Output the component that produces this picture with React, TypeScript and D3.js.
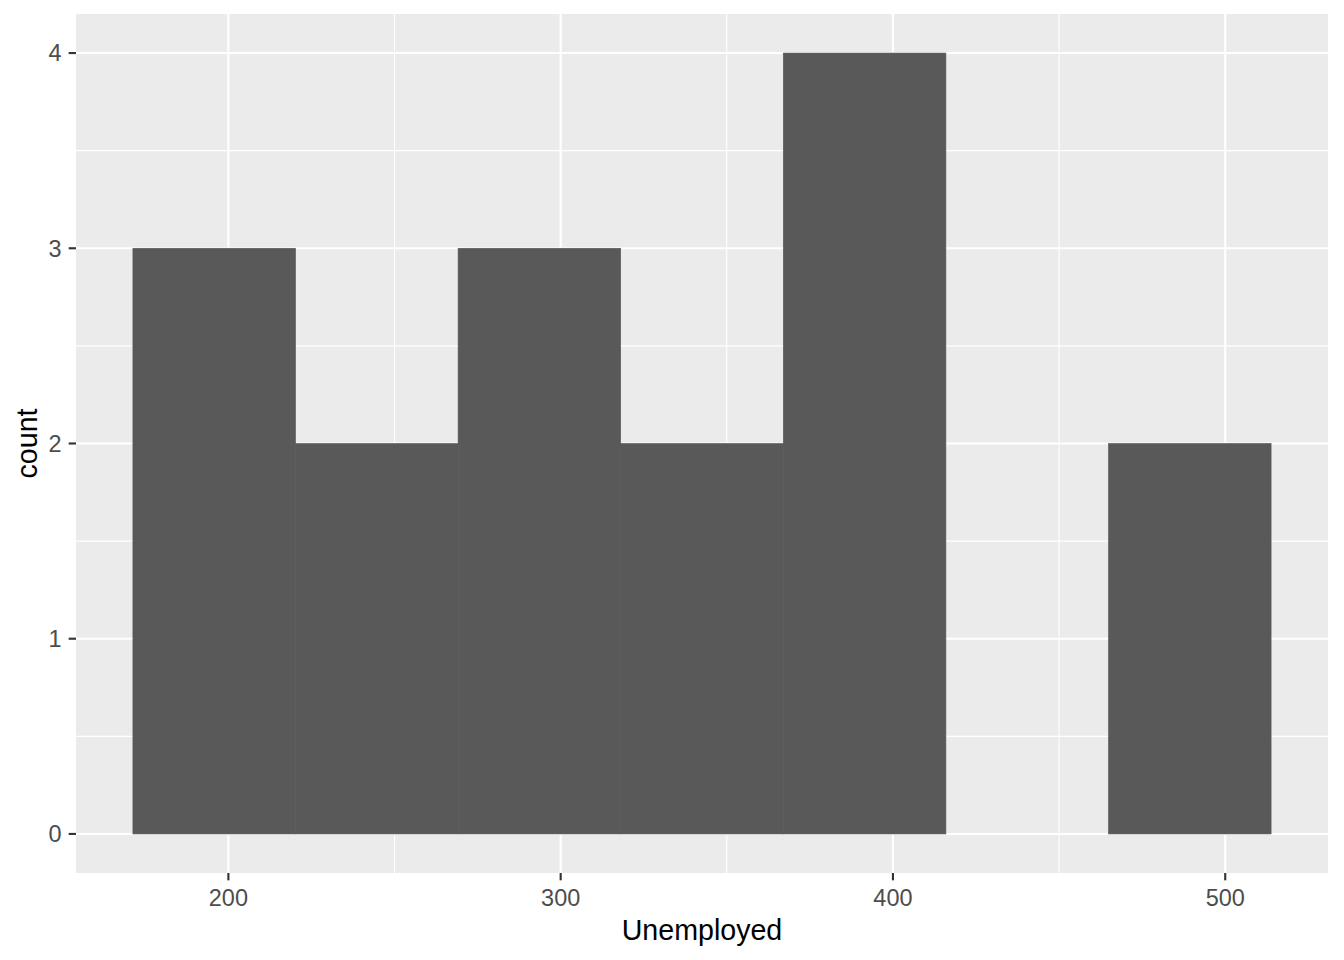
import React from "react";
import * as d3 from "d3";

// longley$Unemployed
const unemployed: number[] = [
  235.6, 232.5, 368.2, 335.1, 209.9, 193.2, 187.0, 357.8,
  290.4, 282.2, 293.6, 468.1, 381.3, 393.1, 480.6, 400.7,
];
const binCount = 7;
const xTicks: number[] = [200, 300, 400, 500];
const xMinorTicks: number[] = [250, 350, 450];
const yTicks: number[] = [0, 1, 2, 3, 4];
const yMinorTicks: number[] = [0.5, 1.5, 2.5, 3.5];
const xTitle = "Unemployed";
const yTitle = "count";

const W = 1344;
const H = 960;
const panel = { left: 76, right: 1328, top: 14, bottom: 873 };

function ggBins(values: number[], bins: number) {
  const [lo, hi] = d3.extent(values) as [number, number];
  const width = (hi - lo) / (bins - 1);
  const boundary = width / 2;
  const shift = Math.floor((lo - boundary) / width);
  const origin = boundary + shift * width;
  const edges: number[] = [];
  for (let i = 0; i <= bins; i++) edges.push(origin + i * width);
  const out = [];
  for (let i = 0; i < bins; i++) {
    const x0 = edges[i];
    const x1 = edges[i + 1];
    const count = values.filter((v) =>
      i === 0 ? v >= x0 && v <= x1 : v > x0 && v <= x1
    ).length;
    out.push({ x0, x1, count });
  }
  return out;
}

export default function App() {
  const bins = ggBins(unemployed, binCount);
  const xLo = bins[0].x0;
  const xHi = bins[bins.length - 1].x1;
  const xPad = (xHi - xLo) * 0.05;
  const yMax = d3.max(bins, (b) => b.count) as number;
  const yPad = yMax * 0.05;

  const x = d3.scaleLinear().domain([xLo - xPad, xHi + xPad]).range([panel.left, panel.right]);
  const y = d3.scaleLinear().domain([-yPad, yMax + yPad]).range([panel.bottom, panel.top]);

  const font = "'Liberation Sans', Arial, sans-serif";
  const tickLen = 7.33;

  return (
    <svg width={W} height={H} style={{ position: "absolute", left: 0, top: 0 }} fontFamily={font}>
      <rect x={0} y={0} width={W} height={H} fill="#FFFFFF" />
      <rect x={panel.left} y={panel.top} width={panel.right - panel.left} height={panel.bottom - panel.top} fill="#EBEBEB" />
      {xMinorTicks.map((t) => (
        <line key={"xm" + t} x1={x(t)} x2={x(t)} y1={panel.top} y2={panel.bottom} stroke="#FFFFFF" strokeWidth={1.07} />
      ))}
      {yMinorTicks.map((t) => (
        <line key={"ym" + t} x1={panel.left} x2={panel.right} y1={y(t)} y2={y(t)} stroke="#FFFFFF" strokeWidth={1.07} />
      ))}
      {xTicks.map((t) => (
        <line key={"xM" + t} x1={x(t)} x2={x(t)} y1={panel.top} y2={panel.bottom} stroke="#FFFFFF" strokeWidth={2.13} />
      ))}
      {yTicks.map((t) => (
        <line key={"yM" + t} x1={panel.left} x2={panel.right} y1={y(t)} y2={y(t)} stroke="#FFFFFF" strokeWidth={2.13} />
      ))}
      {bins.filter((b) => b.count > 0).map((b, i) => (
        <rect key={i} x={x(b.x0)} y={y(b.count)} width={x(b.x1) - x(b.x0)} height={y(0) - y(b.count)}
          fill="#595959" stroke="#595959" strokeWidth={0.6} />
      ))}
      {xTicks.map((t) => (
        <g key={"xt" + t}>
          <line x1={x(t)} x2={x(t)} y1={panel.bottom} y2={panel.bottom + tickLen} stroke="#333333" strokeWidth={2.13} />
          <text x={x(t)} y={906} textAnchor="middle" fontSize={23.47} fill="#4D4D4D">{t}</text>
        </g>
      ))}
      {yTicks.map((t) => (
        <g key={"yt" + t}>
          <line x1={panel.left - tickLen} x2={panel.left} y1={y(t)} y2={y(t)} stroke="#333333" strokeWidth={2.13} />
          <text x={61.5} y={y(t)} dy="0.36em" textAnchor="end" fontSize={23.47} fill="#4D4D4D">{t}</text>
        </g>
      ))}
      <text x={(panel.left + panel.right) / 2} y={940} textAnchor="middle" fontSize={28.6} fill="#000000">{xTitle}</text>
      <text transform={`translate(37,${(panel.top + panel.bottom) / 2}) rotate(-90)`} textAnchor="middle" fontSize={28.6} fill="#000000">{yTitle}</text>
    </svg>
  );
}
